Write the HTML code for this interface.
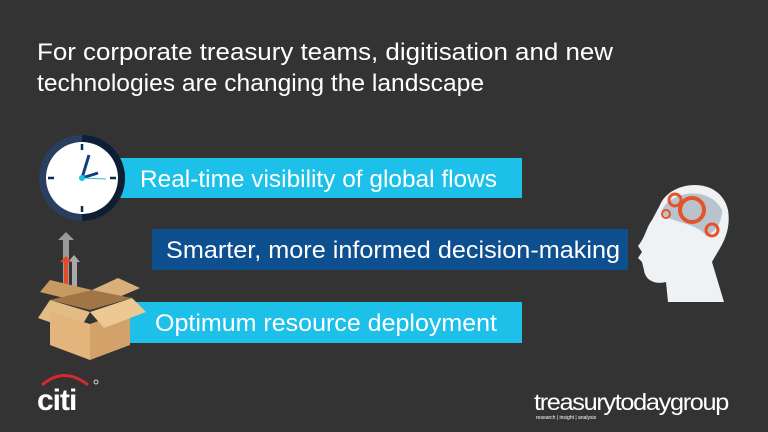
<!DOCTYPE html>
<html><head><meta charset="utf-8"><style>
html,body{margin:0;padding:0;background:#333333;}
svg{display:block}
text{font-family:"Liberation Sans",sans-serif;}
</style></head><body>
<svg width="768" height="432" viewBox="0 0 768 432" xmlns="http://www.w3.org/2000/svg">
<rect width="768" height="432" fill="#333333"/>
<text x="37" y="60" font-size="24" fill="#fff" textLength="576" lengthAdjust="spacingAndGlyphs">For corporate treasury teams, digitisation and new</text>
<text x="37" y="91" font-size="24" fill="#fff" textLength="447" lengthAdjust="spacingAndGlyphs">technologies are changing the landscape</text>

<!-- bars -->
<rect x="118" y="158" width="404" height="40" fill="#1cc0e8"/>
<text x="140" y="187" font-size="24" fill="#fff" textLength="357" lengthAdjust="spacingAndGlyphs">Real-time visibility of global flows</text>
<rect x="152" y="229" width="476" height="41" fill="#0d4f8f"/>
<text x="166" y="258" font-size="24" fill="#fff" textLength="454" lengthAdjust="spacingAndGlyphs">Smarter, more informed decision-making</text>
<rect x="128" y="302" width="394" height="41" fill="#1cc0e8"/>
<text x="155" y="331" font-size="24" fill="#fff" textLength="342" lengthAdjust="spacingAndGlyphs">Optimum resource deployment</text>

<!-- clock -->
<circle cx="82" cy="178" r="43" fill="#2a3f5f"/>
<path d="M82 135 A43 43 0 0 1 82 221 Z" fill="#0e1e35"/>
<circle cx="82" cy="178" r="36" fill="#fff"/>
<g stroke="#0e2a4d" stroke-width="2.5">
<line x1="82" y1="144" x2="82" y2="150"/><line x1="82" y1="206" x2="82" y2="212"/>
<line x1="48" y1="178" x2="54" y2="178"/><line x1="110" y1="178" x2="116" y2="178"/>
</g>
<line x1="82" y1="178" x2="89" y2="155" stroke="#123e7a" stroke-width="3"/>
<line x1="82" y1="178" x2="98" y2="173" stroke="#123e7a" stroke-width="3"/>
<line x1="82" y1="178" x2="106" y2="179" stroke="#1cc0e8" stroke-width="1"/>
<circle cx="82" cy="178" r="3" fill="#1cc0e8"/>

<!-- box with arrows -->
<polygon points="58,240 66,232 74,240 69,240 69,300 63,300 63,240" fill="#9a9a9a"/>
<polygon points="68,262 74,255 80,262 77,262 77,300 72,300 72,262" fill="#aaa"/>
<polygon points="60,262 66,256 72,262 68,262 68,300 64,300 64,262" fill="#e24a2a"/>
<polygon points="40,292 50,280 92,290 80,302" fill="#c59a63"/>
<polygon points="92,290 118,278 140,288 112,300" fill="#d9b07c"/>
<polygon points="50,300 92,290 132,298 90,310" fill="#a07646"/>
<polygon points="38,318 50,300 90,312 78,332" fill="#e3bb85"/>
<polygon points="50,312 90,324 90,360 50,345" fill="#e3b47c"/>
<polygon points="90,324 130,310 130,345 90,360" fill="#d3a26a"/>
<polygon points="90,312 132,298 146,312 104,328" fill="#ecc993"/>

<!-- head -->
<path d="M660 205 C670 180 720 175 728 210 C732 235 718 250 712 262 L724 302 L668 302 L666 282 C655 285 645 280 644 270 L642 262 L638 258 L642 252 L638 246 C646 236 646 228 652 220 Z" fill="#eef2f4"/>
<path d="M662 210 C672 190 710 186 722 210 C722 222 716 232 706 236 C700 224 670 222 662 214 Z" fill="#b9c3cc"/>
<circle cx="692" cy="210" r="12" fill="none" stroke="#e4532c" stroke-width="4"/>
<circle cx="675" cy="200" r="6" fill="none" stroke="#e4532c" stroke-width="3"/>
<circle cx="712" cy="230" r="6" fill="none" stroke="#e4532c" stroke-width="3"/>
<circle cx="666" cy="214" r="4" fill="none" stroke="#e4532c" stroke-width="2"/>

<!-- citi -->
<path d="M42 385 Q64 366 88 385" fill="none" stroke="#d7282f" stroke-width="3"/>
<text x="37" y="410" font-size="30" font-weight="bold" fill="#fff" letter-spacing="-1">citi</text>
<circle cx="96" cy="382" r="2" fill="none" stroke="#fff" stroke-width="0.8"/>

<!-- treasurytoday -->
<text x="534" y="410" font-size="23" fill="#fff" letter-spacing="-1.2" textLength="194" lengthAdjust="spacingAndGlyphs">treasurytodaygroup</text>
<text x="536" y="419" font-size="5" fill="#fff">research | insight | analysis</text>
</svg>
</body></html>
